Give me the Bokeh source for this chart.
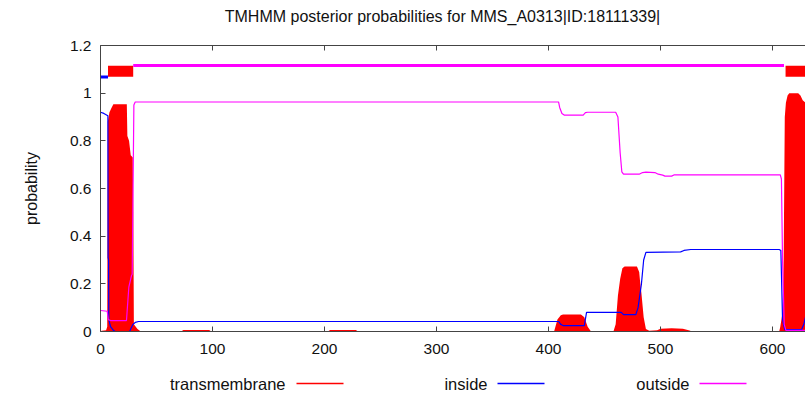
from bokeh.plotting import figure
from bokeh.layouts import column
from bokeh.models import LinearAxis, FixedTicker, Range1d
from bokeh.core.properties import value
from bokeh.embed import file_html
from bokeh.resources import INLINE

FONT = "Liberation Sans"
TITLE = "TMHMM posterior probabilities for MMS_A0313|ID:18111339|"

# Posterior probability per residue (breakpoints: residue, probability)
tm_pos = [0, 1, 5, 6, 6.5, 8, 10, 11.5, 23.5, 24, 25.5, 27, 28.8, 29.3, 29.8, 33, 36,
          72, 74, 97, 99,
          203, 205, 228, 230,
          405, 408, 411, 413, 429, 432, 435, 438,
          458, 460, 462, 464, 466, 468, 479, 481, 482, 483, 485, 487, 490, 497, 500, 510,
          520, 526, 528,
          606, 607, 609, 610, 611, 612, 613.5, 615, 623, 625, 627, 629.5]
tm_prob = [0.0, 0.003, 0.005, 0.02, 0.88, 0.92, 0.94, 0.953, 0.953, 0.82, 0.80, 0.74, 0.73, 0.5, 0.03, 0.01, 0.0,
           0.0, 0.006, 0.006, 0.0,
           0.0, 0.006, 0.006, 0.0,
           0.0, 0.05, 0.068, 0.071, 0.071, 0.06, 0.02, 0.0,
           0.0, 0.03, 0.15, 0.22, 0.265, 0.273, 0.273, 0.25, 0.20, 0.16, 0.06, 0.01, 0.003, 0.005, 0.012, 0.014,
           0.012, 0.004, 0.0,
           0.0, 0.02, 0.08, 0.3, 0.9, 0.96, 0.99, 1.0, 1.0, 0.99, 0.97, 0.96]

inside_pos = [0, 3, 6.6, 6.8, 7.2, 7.4, 9, 11.5, 13, 26, 27, 29, 31, 34,
              409, 411, 413, 432, 434, 465, 467, 478, 480, 483, 485, 487,
              518, 521, 527, 606, 607.5, 609, 611, 626, 628, 629.5]
inside_prob = [0.92, 0.915, 0.905, 0.31, 0.30, 0.05, 0.02, 0.005, 0.0, 0.0, 0.01, 0.03, 0.038, 0.042,
               0.042, 0.03, 0.025, 0.025, 0.08, 0.08, 0.071, 0.071, 0.1, 0.2, 0.3, 0.332,
               0.334, 0.34, 0.344, 0.344, 0.34, 0.05, 0.008, 0.008, 0.03, 0.06]

outside_pos = [0, 6, 7, 8.9, 23.2, 25.3, 27.7, 28.3, 29.8, 31,
               409, 410, 412, 414, 431, 433, 435, 460, 462, 464, 465.5, 467,
               481, 484, 487, 495, 498, 502, 504, 510, 512,
               607, 608, 609, 610.5, 612, 629.5]
outside_prob = [0.088, 0.085, 0.05, 0.046, 0.046, 0.186, 0.235, 0.24, 0.95, 0.963,
                0.963, 0.94, 0.915, 0.908, 0.908, 0.918, 0.92, 0.92, 0.9, 0.75, 0.67, 0.66,
                0.66, 0.667, 0.669, 0.667, 0.66, 0.656, 0.652, 0.652, 0.657,
                0.657, 0.64, 0.3, 0.03, 0.005, 0.005]

# Predicted topology (start, end residue of each region)
tm_start, tm_end = [6.7, 611.7], [29.2, 629.5]
inside_start, inside_end = [0], [6.7]
outside_start, outside_end = [29.2], [610.3]

seq_end = 629.5
x_ticks = [0, 100, 200, 300, 400, 500, 600]
y_ticks = [0, 0.2, 0.4, 0.6, 0.8, 1.0, 1.2]
y_tick_labels = ["0", "0.2", "0.4", "0.6", "0.8", "1", "1.2"]

legend_labels = ["transmembrane", "inside", "outside"]
RED, BLUE, MAGENTA = "#ff0000", "#0000ff", "#ff00ff"
legend_colors = [RED, BLUE, MAGENTA]
AXIS_COLOR = "#444444"
TEXT_COLOR = "#111111"

PAGE_W = 805
LEFT = 100          # left edge of the plotting frame in page pixels
TITLE_H = 30
LEGEND_H = 34
MAIN_H = 396 - TITLE_H - LEGEND_H


def strip(height):
    """A bare figure whose x range is expressed in page pixels."""
    f = figure(width=PAGE_W, height=height, x_range=Range1d(LEFT, PAGE_W), y_range=Range1d(height, 0),
               output_backend="svg", toolbar_location=None,
               x_axis_location=None, y_axis_location=None,
               min_border_left=LEFT, min_border_right=0, min_border_top=0, min_border_bottom=0)
    f.xgrid.visible = False
    f.ygrid.visible = False
    f.outline_line_color = None
    return f


# title strip
tf = strip(TITLE_H)
tf.text(x=[442], y=[16], text=[TITLE], text_align="center", text_baseline="middle",
        text_font=value(FONT), text_font_size="16px", text_color=TEXT_COLOR)

# main chart
p = figure(width=PAGE_W, height=MAIN_H, x_range=Range1d(0, seq_end), y_range=Range1d(0, 1.2),
           output_backend="svg", toolbar_location=None,
           min_border_left=LEFT, min_border_right=0, min_border_top=45 - TITLE_H, min_border_bottom=31)
p.xgrid.visible = False
p.ygrid.visible = False
p.outline_line_color = None
p.background_fill_color = "white"
p.border_fill_color = "white"

# transmembrane probability as filled impulses
p.varea(x=tm_pos, y1=0, y2=tm_prob, fill_color=RED)
p.line(x=inside_pos, y=inside_prob, line_color=BLUE, line_width=1.2)
p.line(x=outside_pos, y=outside_prob, line_color=MAGENTA, line_width=1.2)

# topology bars above the curves
p.segment(x0=tm_start, y0=1.092, x1=tm_end, y1=1.092, line_color=RED, line_width=11, line_cap="butt")
p.segment(x0=inside_start, y0=1.068, x1=inside_end, y1=1.068, line_color=BLUE, line_width=3, line_cap="butt")
p.segment(x0=outside_start, y0=1.116, x1=outside_end, y1=1.116, line_color=MAGENTA, line_width=3, line_cap="butt")


def style_axis(ax):
    ax.axis_line_color = AXIS_COLOR
    ax.major_tick_line_color = AXIS_COLOR
    ax.minor_tick_line_color = None
    ax.major_tick_in = 5
    ax.major_tick_out = 0
    ax.major_label_text_font = FONT
    ax.major_label_text_font_size = "15.5px"
    ax.major_label_text_color = TEXT_COLOR


xa = p.xaxis[0]
xa.ticker = FixedTicker(ticks=x_ticks)
style_axis(xa)
xa.major_label_standoff = 12

ya = p.yaxis[0]
ya.ticker = FixedTicker(ticks=y_ticks)
ya.major_label_overrides = {t: s for t, s in zip(y_ticks, y_tick_labels)}
style_axis(ya)
ya.major_label_standoff = 9
ya.axis_label = "probability"
ya.axis_label_text_font = FONT
ya.axis_label_text_font_size = "16px"
ya.axis_label_text_font_style = "normal"
ya.axis_label_text_color = TEXT_COLOR
ya.axis_label_standoff = 27

top = LinearAxis(ticker=FixedTicker(ticks=x_ticks))
style_axis(top)
top.major_label_text_font_size = "0px"
top.major_label_text_color = None
top.major_label_standoff = 0
p.add_layout(top, "above")

# legend strip: label first, then a line sample
lg = strip(LEGEND_H)
text_right = [285, 487, 689]
sample_x0 = [296, 497, 699]
sample_len = 47
lg.text(x=text_right, y=[21, 21, 21], text=legend_labels, text_align="right", text_baseline="middle",
        text_font=value(FONT), text_font_size="16.5px", text_color=TEXT_COLOR)
for x0, c in zip(sample_x0, legend_colors):
    lg.line(x=[x0, x0 + sample_len], y=[21, 21], line_color=c, line_width=1.5)

layout = column(tf, p, lg, spacing=0)
open("out.html", "w").write(file_html(layout, INLINE))
